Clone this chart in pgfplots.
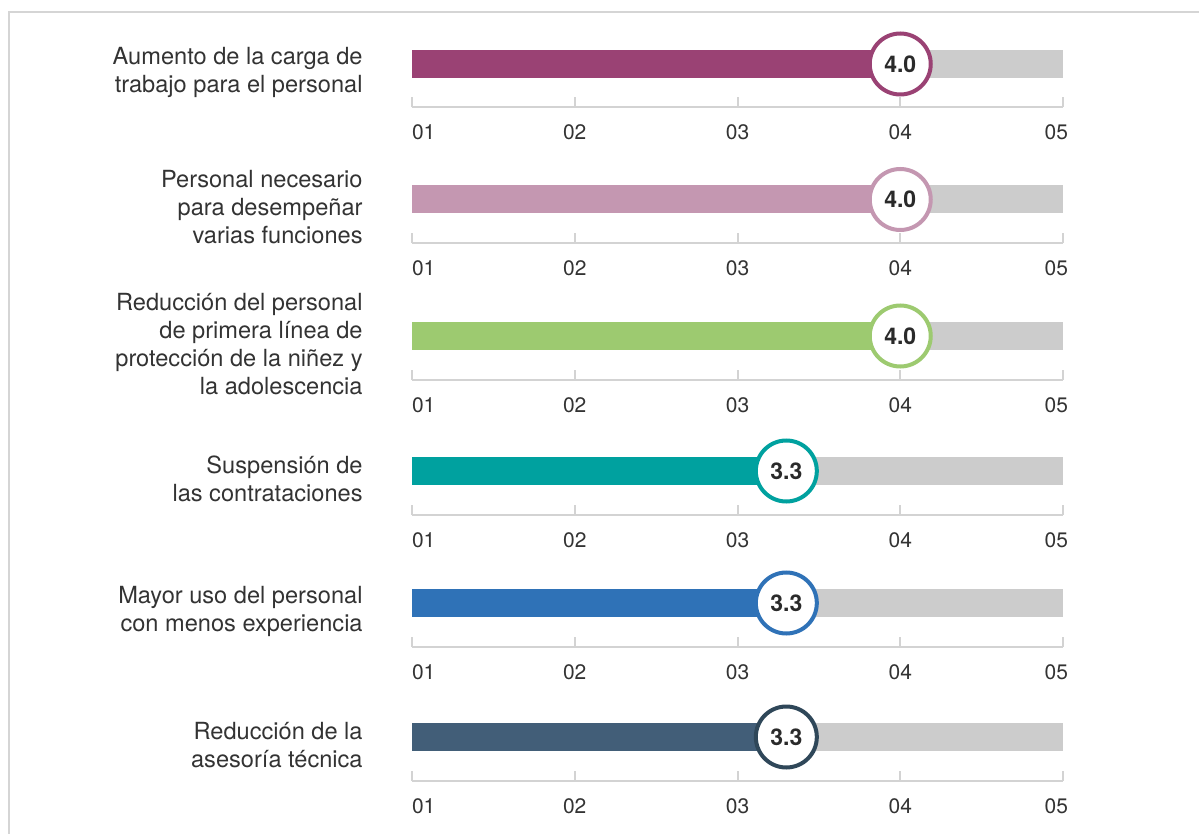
\documentclass[border=0pt]{standalone}
\usepackage{fontspec}
\setmainfont{TeX Gyre Heros}
\usepackage{pgfplots}
\pgfplotsset{compat=1.18}
\definecolor{cA}{HTML}{9A4274}
\definecolor{cB}{HTML}{C497B1}
\definecolor{cC}{HTML}{9DCA70}
\definecolor{cD}{HTML}{00A19F}
\definecolor{cE}{HTML}{2F72B7}
\definecolor{cF}{HTML}{425E78}
\definecolor{cFd}{HTML}{2F4759}
\definecolor{bargray}{HTML}{CCCCCC}
\definecolor{axisgray}{HTML}{D3D3D3}
\definecolor{framegray}{HTML}{D5D5D5}
\definecolor{txt}{HTML}{333333}
\definecolor{valtxt}{HTML}{2A2A2A}
\tikzset{
  rowlabel/.style={anchor=east, align=right, inner sep=0pt, xshift=-24.5pt,
    font=\fontsize{11.8}{14}\selectfont, text=txt},
}
\pgfplotsset{
  rowaxis/.style={
    scale only axis, width=325.5pt, height=29.75pt,
    xmin=1, xmax=5, ymin=-43.5, ymax=16,
    axis x line*=bottom, axis y line=none,
    clip=false,
    axis line style={draw=axisgray, line width=1pt, -},
    xtick={1,2,3,4,5},
    xticklabels={\makebox[0pt][l]{01},02,03,04,\makebox[0pt][r]{05\hspace{-2.5pt}}},
    major tick length=5pt, tick align=inside,
    xtick style={draw=axisgray, line width=1pt},
    xticklabel shift=16.25pt,
    xticklabel style={anchor=base, inner sep=0pt, font=\fontsize{10.5}{12}\selectfont, text=txt},
    anchor=south west,
  },
  valmark/.style={only marks, mark=*, mark size=15.25pt,
    mark options={draw=#1, fill=white, line width=2pt},
    point meta=explicit symbolic, nodes near coords,
    nodes near coords align={anchor=center},
    every node near coord/.append style={anchor=center, inner sep=0pt,
      font=\fontsize{11.5}{12}\selectfont\bfseries, text=valtxt}},
}
\begin{document}
\begin{tikzpicture}
\path[use as bounding box] (0pt,0pt) rectangle (599.5pt,-417pt);
\draw[framegray, line width=1pt] (4.5pt,-420pt) -- (4.5pt,-5.9pt) -- (602pt,-5.9pt);

% Row 1
\begin{axis}[rowaxis, at={(206pt,-53.75pt)}]
\addplot[fill=bargray, draw=none] coordinates {(1,-14) (5,-14) (5,14) (1,14)} -- cycle;
\addplot[fill=cA, draw=none] coordinates {(1,-14) (4.0,-14) (4.0,14) (1,14)} -- cycle;
\addplot[valmark=cA] coordinates {(4.0,0) [4.0]};
\node[rowlabel] at (axis cs:1,-8) {Aumento de la carga de\\trabajo para el personal};
\end{axis}

% Row 2
\begin{axis}[rowaxis, at={(206pt,-121.5pt)}]
\addplot[fill=bargray, draw=none] coordinates {(1,-14) (5,-14) (5,14) (1,14)} -- cycle;
\addplot[fill=cB, draw=none] coordinates {(1,-14) (4.0,-14) (4.0,14) (1,14)} -- cycle;
\addplot[valmark=cB] coordinates {(4.0,0) [4.0]};
\node[rowlabel] at (axis cs:1,-8) {Personal necesario\\para desempeñar\\varias funciones};
\end{axis}

% Row 3
\begin{axis}[rowaxis, at={(206pt,-189.75pt)}]
\addplot[fill=bargray, draw=none] coordinates {(1,-14) (5,-14) (5,14) (1,14)} -- cycle;
\addplot[fill=cC, draw=none] coordinates {(1,-14) (4.0,-14) (4.0,14) (1,14)} -- cycle;
\addplot[valmark=cC] coordinates {(4.0,0) [4.0]};
\node[rowlabel] at (axis cs:1,-8) {Reducción del personal\\de primera línea de\\protección de la niñez y\\la adolescencia};
\end{axis}

% Row 4
\begin{axis}[rowaxis, at={(206pt,-257.25pt)}]
\addplot[fill=bargray, draw=none] coordinates {(1,-14) (5,-14) (5,14) (1,14)} -- cycle;
\addplot[fill=cD, draw=none] coordinates {(1,-14) (3.3,-14) (3.3,14) (1,14)} -- cycle;
\addplot[valmark=cD] coordinates {(3.3,0) [3.3]};
\node[rowlabel] at (axis cs:1,-8) {Suspensión de\\las contrataciones};
\end{axis}

% Row 5
\begin{axis}[rowaxis, at={(206pt,-323.25pt)}]
\addplot[fill=bargray, draw=none] coordinates {(1,-14) (5,-14) (5,14) (1,14)} -- cycle;
\addplot[fill=cE, draw=none] coordinates {(1,-14) (3.3,-14) (3.3,14) (1,14)} -- cycle;
\addplot[valmark=cE] coordinates {(3.3,0) [3.3]};
\node[rowlabel] at (axis cs:1,-8) {Mayor uso del personal\\con menos experiencia};
\end{axis}

% Row 6
\begin{axis}[rowaxis, at={(206pt,-390.25pt)}]
\addplot[fill=bargray, draw=none] coordinates {(1,-14) (5,-14) (5,14) (1,14)} -- cycle;
\addplot[fill=cF, draw=none] coordinates {(1,-14) (3.3,-14) (3.3,14) (1,14)} -- cycle;
\addplot[valmark=cFd] coordinates {(3.3,0) [3.3]};
\node[rowlabel] at (axis cs:1,-8) {Reducción de la\\asesoría técnica};
\end{axis}
\end{tikzpicture}
\end{document}
